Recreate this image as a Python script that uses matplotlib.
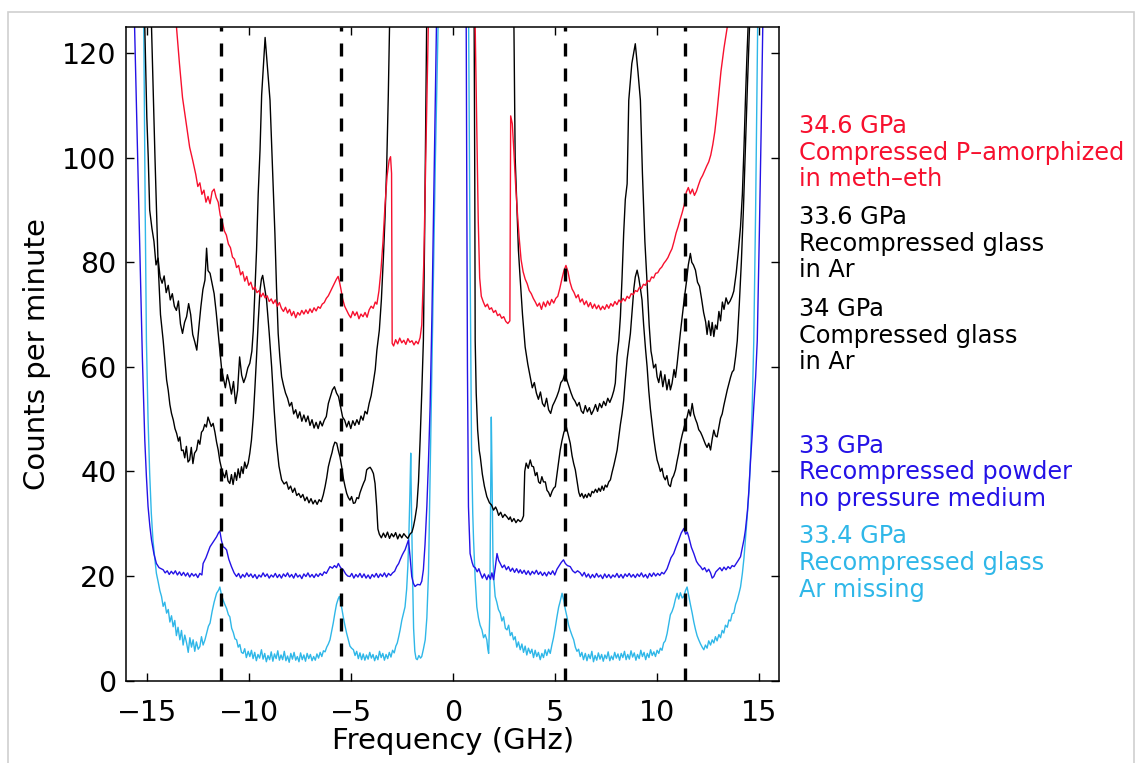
import matplotlib
matplotlib.use("Agg")
import matplotlib.pyplot as plt
from matplotlib.patches import Rectangle

plt.rcParams['font.family'] = ['DejaVu Sans']

# spectra: (frequency GHz, counts per minute)
# values above 125 just mean the trace leaves the top of the plot
red_spectrum = [
    (-14.0, 160), (-13.54, 124.7), (-13.4, 118), (-13.25, 111.5), (-13.05, 106), (-12.9, 102),
    (-12.75, 99.5), (-12.6, 96.8), (-12.5, 94.5), (-12.4, 95.2), (-12.3, 93), (-12.2, 93.8),
    (-12.1, 91.5), (-12.0, 92.6), (-11.9, 91.2), (-11.8, 93.5), (-11.7, 94), (-11.6, 92.4),
    (-11.5, 91.5), (-11.4, 89), (-11.3, 87.8), (-11.2, 86), (-11.1, 85.2), (-11.0, 83.5),
    (-10.9, 82.8), (-10.8, 81), (-10.7, 80.6), (-10.6, 79), (-10.5, 79.4), (-10.4, 77.6),
    (-10.3, 78.2), (-10.2, 76.4), (-10.1, 77.3), (-10.0, 75.6), (-9.9, 76.2), (-9.8, 74.8),
    (-9.7, 75.3), (-9.6, 74.2), (-9.5, 74.6), (-9.4, 73.4), (-9.3, 74.1), (-9.2, 73.2),
    (-9.1, 73.6), (-9.0, 72.5), (-8.9, 73.0), (-8.8, 72.1), (-8.7, 72.8), (-8.6, 71.6),
    (-8.5, 72.3), (-8.4, 71.2), (-8.3, 70.6), (-8.2, 71.4), (-8.1, 70.3), (-8.0, 71.0),
    (-7.9, 69.8), (-7.8, 70.6), (-7.7, 69.4), (-7.6, 70.4), (-7.5, 69.9), (-7.4, 70.8),
    (-7.3, 70.1), (-7.2, 70.9), (-7.1, 70.2), (-7.0, 71.1), (-6.9, 70.4), (-6.8, 71.3),
    (-6.7, 70.7), (-6.6, 71.5), (-6.5, 71.2), (-6.4, 72.0), (-6.3, 72.3), (-6.2, 73.1),
    (-6.1, 73.6), (-6.0, 74.4), (-5.9, 75.2), (-5.8, 76.0), (-5.7, 76.8), (-5.62, 77.3),
    (-5.55, 76.2), (-5.48, 74.8), (-5.4, 73.0), (-5.3, 71.6), (-5.2, 70.8), (-5.1, 70.0),
    (-5.0, 69.4), (-4.9, 70.6), (-4.8, 69.8), (-4.7, 70.5), (-4.6, 69.2), (-4.5, 70.1),
    (-4.4, 69.6), (-4.3, 70.4), (-4.2, 69.5), (-4.1, 70.9), (-4.0, 71.6), (-3.9, 71.2),
    (-3.8, 72.4), (-3.72, 72.0), (-3.62, 74.5), (-3.52, 78.5), (-3.42, 84.0), (-3.32, 91.0),
    (-3.22, 96.5), (-3.12, 99.5), (-3.05, 100.2), (-3.0, 97.0), (-2.97, 64.5), (-2.9, 64.0),
    (-2.8, 65.2), (-2.7, 64.4), (-2.6, 65.5), (-2.5, 64.6), (-2.4, 65.1), (-2.3, 64.3),
    (-2.2, 65.4), (-2.1, 64.7), (-2.0, 65.0), (-1.9, 64.2), (-1.8, 64.9), (-1.7, 64.4),
    (-1.6, 65.6), (-1.52, 68), (-1.42, 80), (-1.32, 100), (-1.2, 125), (-1.1, 160),
    (1.0, 160), (1.1, 125), (1.18, 105), (1.25, 88), (1.32, 77), (1.4, 73.5), (1.5, 72.4),
    (1.6, 71.5), (1.7, 72.0), (1.8, 71.0), (1.9, 71.3), (2.0, 70.4), (2.1, 70.8), (2.2, 69.8),
    (2.3, 70.1), (2.4, 69.3), (2.5, 69.6), (2.6, 68.7), (2.7, 68.3), (2.8, 68.8), (2.84, 108.0),
    (2.92, 106.5), (3.0, 101), (3.08, 95), (3.16, 90), (3.25, 85), (3.35, 80.5), (3.45, 78.2),
    (3.55, 76.8), (3.65, 75.9), (3.75, 74.6), (3.85, 74.0), (3.95, 73.1), (4.05, 72.4),
    (4.15, 71.6), (4.25, 72.2), (4.35, 71.0), (4.45, 72.4), (4.55, 71.5), (4.65, 72.6),
    (4.75, 71.8), (4.85, 72.9), (4.95, 72.2), (5.05, 73.1), (5.15, 73.5), (5.25, 75.0),
    (5.35, 76.8), (5.45, 78.4), (5.55, 79.4), (5.65, 78.2), (5.75, 76.2), (5.85, 74.9),
    (5.95, 74.2), (6.05, 73.2), (6.15, 73.8), (6.25, 72.4), (6.35, 73.0), (6.45, 71.9),
    (6.55, 72.6), (6.65, 71.5), (6.75, 72.3), (6.85, 71.2), (6.95, 72.0), (7.05, 71.1),
    (7.15, 71.8), (7.25, 70.9), (7.35, 71.6), (7.45, 71.0), (7.55, 71.9), (7.65, 71.2),
    (7.75, 72.1), (7.85, 71.6), (7.95, 72.5), (8.05, 71.9), (8.15, 72.8), (8.25, 72.3),
    (8.35, 73.1), (8.45, 72.6), (8.55, 73.5), (8.65, 73.1), (8.75, 74.0), (8.85, 73.8),
    (8.95, 74.6), (9.05, 74.4), (9.15, 75.2), (9.25, 75.0), (9.35, 75.8), (9.45, 75.6),
    (9.55, 76.5), (9.65, 76.3), (9.75, 77.2), (9.85, 77.0), (9.95, 77.9), (10.05, 78.0),
    (10.15, 78.7), (10.25, 79.1), (10.35, 79.8), (10.45, 80.3), (10.55, 80.9), (10.65, 81.8),
    (10.75, 82.6), (10.85, 84.0), (10.95, 85.6), (11.05, 86.8), (11.15, 88.2), (11.25, 89.5),
    (11.35, 91.0), (11.45, 93.4), (11.55, 94.3), (11.65, 93.1), (11.75, 94.0), (11.85, 92.8),
    (11.95, 93.6), (12.05, 94.8), (12.15, 95.9), (12.25, 96.6), (12.35, 97.5), (12.45, 98.4),
    (12.55, 99.2), (12.65, 100.5), (12.75, 102.5), (12.85, 105.0), (12.95, 108.5),
    (13.05, 112.5), (13.15, 116.5), (13.3, 121.0), (13.46, 125.0), (13.6, 160),
]

black_upper_spectrum = [
    (-15.2, 160), (-15.1, 125), (-15.0, 107.7), (-14.93, 100), (-14.86, 90), (-14.75, 86.5),
    (-14.65, 84.0), (-14.55, 79.5), (-14.45, 80.8), (-14.35, 77.2), (-14.25, 76.0),
    (-14.15, 77.4), (-14.05, 74.2), (-13.95, 75.6), (-13.85, 72.8), (-13.75, 74.0),
    (-13.65, 71.6), (-13.55, 70.8), (-13.45, 72.6), (-13.35, 68.2), (-13.25, 66.4),
    (-13.15, 68.5), (-13.05, 69.6), (-12.95, 72.1), (-12.85, 70.0), (-12.75, 66.2),
    (-12.65, 64.8), (-12.55, 63.2), (-12.45, 67.5), (-12.35, 71.5), (-12.25, 74.8),
    (-12.15, 76.6), (-12.07, 82.7), (-12.0, 78.4), (-11.9, 77.9), (-11.8, 76.0), (-11.7, 74.0),
    (-11.6, 70.5), (-11.5, 66.4), (-11.42, 63.2), (-11.33, 59.5), (-11.26, 58.1),
    (-11.15, 56.0), (-11.05, 58.5), (-10.95, 56.9), (-10.85, 54.8), (-10.75, 57.2),
    (-10.65, 53.0), (-10.55, 55.5), (-10.45, 61.9), (-10.35, 58.4), (-10.25, 57.0),
    (-10.15, 58.1), (-10.05, 59.8), (-9.95, 60.7), (-9.85, 63.0), (-9.78, 67.0), (-9.7, 74.5),
    (-9.62, 82.3), (-9.54, 93.0), (-9.45, 101.4), (-9.37, 112.0), (-9.29, 117.3), (-9.2, 123.0),
    (-9.1, 118.0), (-8.96, 111.0), (-8.84, 98.0), (-8.72, 85.5), (-8.64, 75.0), (-8.56, 66.4),
    (-8.48, 62.0), (-8.39, 58.1), (-8.3, 56.5), (-8.2, 55.0), (-8.1, 54.0), (-8.0, 52.5),
    (-7.9, 53.2), (-7.8, 51.0), (-7.7, 51.8), (-7.6, 50.2), (-7.5, 51.4), (-7.4, 49.6),
    (-7.3, 50.8), (-7.2, 49.5), (-7.1, 50.6), (-7.0, 48.8), (-6.9, 49.9), (-6.8, 48.3),
    (-6.7, 49.4), (-6.6, 48.2), (-6.5, 49.6), (-6.4, 48.7), (-6.3, 49.8), (-6.2, 50.5),
    (-6.1, 53.0), (-6.0, 54.3), (-5.9, 55.6), (-5.8, 56.2), (-5.7, 55.0), (-5.6, 54.3),
    (-5.5, 52.4), (-5.4, 50.4), (-5.3, 49.8), (-5.2, 48.5), (-5.1, 49.6), (-5.0, 48.2),
    (-4.9, 49.7), (-4.8, 48.8), (-4.7, 49.9), (-4.6, 49.0), (-4.5, 50.6), (-4.4, 49.8),
    (-4.3, 51.5), (-4.2, 51.0), (-4.1, 53.0), (-4.0, 54.5), (-3.9, 56.9), (-3.8, 59.5),
    (-3.72, 63.2), (-3.6, 67.0), (-3.5, 72.8), (-3.4, 81.0), (-3.32, 88.7), (-3.24, 98.2),
    (-3.16, 112.0), (-3.1, 125.0), (-3.0, 160),
    (2.95, 160), (3.0, 125), (3.06, 100), (3.15, 90), (3.22, 82.3), (3.3, 77.2), (3.42, 70.0),
    (3.55, 63.8), (3.68, 60.5), (3.8, 58.1), (3.9, 56.0), (4.0, 57.0), (4.1, 55.0), (4.2, 53.8),
    (4.3, 55.2), (4.4, 53.0), (4.5, 52.4), (4.6, 54.0), (4.7, 51.8), (4.8, 51.1), (4.9, 52.6),
    (5.0, 53.4), (5.1, 54.3), (5.2, 55.4), (5.3, 57.0), (5.4, 57.5), (5.5, 58.8), (5.6, 57.4),
    (5.7, 56.2), (5.8, 55.0), (5.9, 54.0), (6.0, 53.4), (6.1, 52.5), (6.2, 53.2), (6.3, 51.6),
    (6.4, 51.1), (6.5, 52.6), (6.6, 51.4), (6.7, 52.2), (6.8, 50.9), (6.9, 51.7), (7.0, 52.8),
    (7.1, 51.5), (7.2, 53.0), (7.3, 52.2), (7.4, 53.4), (7.5, 52.6), (7.6, 54.0), (7.7, 53.2),
    (7.81, 54.3), (7.9, 55.5), (7.97, 56.9), (8.05, 62.0), (8.14, 65.0), (8.22, 69.6),
    (8.3, 77.0), (8.38, 85.5), (8.46, 92.0), (8.55, 95.0), (8.63, 111.0), (8.78, 118.0),
    (8.95, 121.8), (9.08, 116.5), (9.2, 111.0), (9.3, 97.0), (9.42, 84.0), (9.53, 75.9),
    (9.63, 68.0), (9.72, 63.0), (9.77, 61.9), (9.85, 59.8), (9.95, 60.5), (10.02, 58.1),
    (10.1, 57.0), (10.2, 59.2), (10.3, 56.2), (10.4, 58.5), (10.5, 55.6), (10.6, 57.6),
    (10.67, 55.6), (10.75, 56.8), (10.85, 59.5), (10.92, 58.0), (11.0, 60.5), (11.08, 63.5),
    (11.16, 66.5), (11.25, 69.6), (11.35, 73.0), (11.45, 76.0), (11.55, 79.5), (11.65, 81.7),
    (11.72, 80.0), (11.8, 79.5), (11.9, 78.5), (12.0, 76.2), (12.1, 75.4), (12.2, 73.0),
    (12.3, 70.4), (12.4, 68.6), (12.47, 66.2), (12.55, 68.8), (12.65, 66.0), (12.72, 68.5),
    (12.8, 65.8), (12.88, 68.0), (12.96, 67.2), (13.05, 70.6), (13.13, 68.8), (13.22, 72.4),
    (13.3, 71.0), (13.4, 73.2), (13.5, 72.0), (13.6, 72.6), (13.7, 73.5), (13.78, 74.5),
    (13.9, 78.0), (14.0, 82.0), (14.11, 86.8), (14.2, 93.0), (14.28, 102.0), (14.35, 111.0),
    (14.42, 119.0), (14.48, 125.0), (14.6, 160),
]

black_lower_spectrum = [
    (-15.0, 160), (-14.77, 125), (-14.6, 100), (-14.45, 80), (-14.33, 70), (-14.2, 65.1),
    (-14.1, 60.5), (-14.03, 57.5), (-13.95, 55.5), (-13.87, 52.8), (-13.79, 51.1),
    (-13.7, 49.8), (-13.62, 48.2), (-13.54, 47.3), (-13.45, 45.8), (-13.38, 46.6),
    (-13.3, 44.0), (-13.22, 44.1), (-13.14, 42.6), (-13.06, 44.8), (-12.98, 41.8),
    (-12.9, 42.2), (-12.82, 44.6), (-12.74, 41.5), (-12.66, 43.5), (-12.56, 44.1),
    (-12.48, 46.0), (-12.4, 45.2), (-12.32, 47.5), (-12.24, 47.9), (-12.16, 49.0),
    (-12.08, 48.5), (-12.0, 50.4), (-11.92, 49.5), (-11.84, 48.6), (-11.75, 49.2),
    (-11.66, 47.5), (-11.58, 45.6), (-11.5, 44.1), (-11.42, 42.0), (-11.34, 40.6),
    (-11.26, 39.6), (-11.18, 38.8), (-11.1, 40.2), (-11.02, 38.2), (-10.93, 37.7),
    (-10.85, 39.4), (-10.77, 37.5), (-10.68, 39.8), (-10.6, 38.3), (-10.52, 40.5),
    (-10.44, 38.8), (-10.36, 40.9), (-10.28, 39.6), (-10.2, 41.8), (-10.12, 40.6),
    (-10.03, 41.6), (-9.95, 43.5), (-9.87, 46.0), (-9.78, 50.4), (-9.7, 56.0), (-9.62, 62.0),
    (-9.54, 68.5), (-9.45, 74.7), (-9.38, 76.8), (-9.32, 77.5), (-9.24, 75.5), (-9.13, 72.8),
    (-9.0, 66.5), (-8.88, 60.0), (-8.76, 52.0), (-8.64, 45.4), (-8.52, 41.0), (-8.39, 38.4),
    (-8.27, 37.6), (-8.15, 38.0), (-8.05, 36.6), (-7.95, 37.2), (-7.85, 36.0), (-7.75, 36.8),
    (-7.65, 35.4), (-7.55, 35.8), (-7.45, 35.0), (-7.35, 35.6), (-7.25, 34.4), (-7.15, 35.1),
    (-7.05, 34.0), (-6.95, 34.8), (-6.85, 33.8), (-6.75, 34.5), (-6.65, 33.7), (-6.55, 34.6),
    (-6.45, 34.2), (-6.35, 35.5), (-6.26, 37.1), (-6.18, 38.8), (-6.1, 40.9), (-6.0, 42.5),
    (-5.92, 43.6), (-5.86, 44.7), (-5.78, 45.6), (-5.69, 45.4), (-5.61, 44.0), (-5.53, 42.8),
    (-5.45, 41.0), (-5.36, 38.6), (-5.28, 37.1), (-5.2, 35.8), (-5.12, 35.0), (-5.04, 34.5),
    (-4.96, 35.2), (-4.87, 33.9), (-4.79, 34.0), (-4.7, 35.0), (-4.62, 34.8), (-4.55, 35.9),
    (-4.45, 37.0), (-4.37, 37.8), (-4.3, 38.4), (-4.22, 40.3), (-4.14, 40.6), (-4.05, 40.8),
    (-3.97, 40.3), (-3.89, 39.6), (-3.81, 37.7), (-3.73, 33.3), (-3.67, 29.0), (-3.6, 28.0),
    (-3.5, 27.3), (-3.4, 28.2), (-3.3, 27.4), (-3.2, 28.4), (-3.1, 27.2), (-3.0, 28.1),
    (-2.9, 27.5), (-2.8, 28.3), (-2.7, 27.1), (-2.6, 28.0), (-2.5, 27.3), (-2.4, 28.1),
    (-2.3, 27.6), (-2.2, 27.2), (-2.1, 28.0), (-2.0, 28.4), (-1.93, 29.4), (-1.85, 31.0),
    (-1.76, 33.3), (-1.68, 38.0), (-1.6, 46.0), (-1.52, 55.0), (-1.44, 65.0), (-1.38, 85.0),
    (-1.32, 110.0), (-1.28, 125.0), (-1.2, 160),
    (1.0, 160), (1.05, 125), (1.08, 95), (1.1, 65), (1.15, 55), (1.22, 48.0), (1.3, 44.0),
    (1.35, 42.8), (1.45, 39.5), (1.55, 37.2), (1.67, 35.2), (1.8, 34.0), (1.9, 33.6),
    (2.0, 32.6), (2.1, 33.2), (2.17, 32.6), (2.25, 31.6), (2.35, 32.2), (2.45, 31.2),
    (2.55, 31.8), (2.66, 31.3), (2.75, 30.8), (2.82, 31.3), (2.9, 30.4), (3.0, 31.0),
    (3.1, 30.2), (3.2, 30.8), (3.31, 30.4), (3.39, 30.7), (3.47, 31.5), (3.53, 40.0),
    (3.6, 41.6), (3.7, 40.6), (3.8, 42.2), (3.88, 41.0), (3.96, 40.9), (4.05, 39.2),
    (4.13, 39.8), (4.21, 38.0), (4.29, 37.7), (4.37, 39.0), (4.45, 38.0), (4.54, 38.0),
    (4.62, 36.4), (4.7, 36.0), (4.78, 35.2), (4.87, 36.2), (4.95, 36.8), (5.03, 37.1),
    (5.11, 39.5), (5.19, 41.8), (5.27, 44.1), (5.35, 45.8), (5.45, 47.5), (5.57, 48.5),
    (5.66, 47.0), (5.76, 45.4), (5.85, 43.0), (5.93, 41.5), (6.01, 40.3), (6.1, 38.0),
    (6.18, 36.0), (6.25, 35.2), (6.33, 35.8), (6.42, 34.9), (6.5, 35.6), (6.58, 35.0),
    (6.66, 35.8), (6.75, 35.2), (6.83, 36.2), (6.91, 35.9), (7.0, 36.6), (7.08, 36.0),
    (7.16, 36.8), (7.24, 36.2), (7.32, 37.2), (7.4, 36.4), (7.48, 37.4), (7.56, 37.0),
    (7.65, 38.0), (7.73, 38.4), (7.81, 39.8), (7.9, 41.2), (7.98, 42.6), (8.06, 44.1),
    (8.14, 46.5), (8.22, 49.0), (8.3, 51.0), (8.38, 53.6), (8.46, 57.5), (8.55, 61.5),
    (8.63, 64.0), (8.71, 66.4), (8.8, 71.0), (8.88, 75.0), (8.95, 77.2), (9.04, 78.5),
    (9.12, 77.0), (9.2, 75.0), (9.28, 72.8), (9.36, 68.0), (9.45, 63.5), (9.53, 60.0),
    (9.61, 55.5), (9.69, 52.0), (9.77, 49.2), (9.85, 46.5), (9.94, 44.0), (10.02, 42.2),
    (10.1, 41.2), (10.18, 40.0), (10.26, 40.6), (10.34, 39.0), (10.42, 38.4), (10.5, 39.2),
    (10.58, 37.5), (10.67, 37.1), (10.75, 38.6), (10.83, 39.2), (10.92, 40.3), (11.0, 42.0),
    (11.08, 43.5), (11.16, 45.4), (11.25, 47.0), (11.33, 48.2), (11.41, 49.5), (11.49, 50.4),
    (11.57, 51.8), (11.65, 50.6), (11.74, 53.0), (11.82, 51.0), (11.9, 50.0), (11.98, 49.2),
    (12.06, 48.0), (12.15, 47.5), (12.23, 46.8), (12.31, 46.0), (12.39, 45.2), (12.47, 44.6),
    (12.55, 45.4), (12.64, 44.1), (12.72, 46.2), (12.8, 47.9), (12.88, 46.8), (12.96, 46.6),
    (13.05, 48.5), (13.13, 50.2), (13.21, 51.0), (13.29, 52.6), (13.37, 54.0), (13.46, 55.6),
    (13.54, 56.8), (13.62, 58.0), (13.7, 59.0), (13.78, 59.4), (13.87, 62.0), (13.95, 65.0),
    (14.05, 72.0), (14.15, 80.0), (14.25, 90.0), (14.35, 102.0), (14.45, 114.0),
    (14.55, 125.0), (14.65, 160),
]

blue_spectrum = [
    (-15.9, 160), (-15.6, 125), (-15.45, 100), (-15.3, 75), (-15.22, 62), (-15.1, 46),
    (-15.02, 39), (-14.94, 33.3), (-14.85, 29.5), (-14.77, 26.9), (-14.65, 24.2),
    (-14.53, 22.4), (-14.4, 21.6), (-14.2, 21.2), (-14.1, 20.6), (-14.0, 21.0), (-13.9, 20.3),
    (-13.8, 20.9), (-13.7, 20.4), (-13.6, 21.0), (-13.5, 20.2), (-13.4, 20.8), (-13.3, 20.1),
    (-13.2, 20.7), (-13.1, 20.0), (-13.0, 20.6), (-12.9, 19.8), (-12.8, 20.5), (-12.7, 20.0),
    (-12.6, 20.4), (-12.5, 19.7), (-12.4, 20.5), (-12.3, 20.2), (-12.24, 22.4), (-12.1, 23.5),
    (-11.9, 25.6), (-11.75, 26.5), (-11.58, 27.5), (-11.48, 28.3), (-11.42, 28.6),
    (-11.34, 26.8), (-11.26, 25.6), (-11.18, 25.4), (-11.09, 25.0), (-10.98, 23.2),
    (-10.85, 21.8), (-10.72, 20.6), (-10.6, 19.9), (-10.5, 20.5), (-10.4, 19.6), (-10.3, 20.3),
    (-10.2, 19.8), (-10.1, 20.6), (-10.0, 19.9), (-9.9, 20.4), (-9.8, 19.7), (-9.7, 20.3),
    (-9.6, 19.5), (-9.5, 20.2), (-9.4, 19.8), (-9.3, 20.6), (-9.2, 19.9), (-9.1, 20.4),
    (-9.0, 19.6), (-8.9, 20.2), (-8.8, 19.8), (-8.7, 20.5), (-8.6, 19.7), (-8.5, 20.3),
    (-8.4, 19.6), (-8.3, 20.4), (-8.2, 19.9), (-8.1, 20.6), (-8.0, 19.8), (-7.9, 20.3),
    (-7.8, 19.6), (-7.7, 20.5), (-7.6, 19.8), (-7.5, 20.2), (-7.4, 19.5), (-7.3, 20.4),
    (-7.2, 19.9), (-7.1, 20.6), (-7.0, 19.8), (-6.9, 20.3), (-6.8, 19.7), (-6.7, 20.4),
    (-6.6, 19.9), (-6.5, 20.5), (-6.4, 20.1), (-6.3, 20.8), (-6.2, 20.5), (-6.1, 21.2),
    (-6.02, 21.8), (-5.9, 21.5), (-5.8, 22.0), (-5.7, 21.6), (-5.61, 22.4), (-5.5, 21.6),
    (-5.37, 21.2), (-5.25, 20.4), (-5.15, 20.0), (-5.04, 19.9), (-4.95, 20.5), (-4.85, 19.6),
    (-4.75, 20.3), (-4.65, 19.8), (-4.55, 20.5), (-4.45, 19.7), (-4.35, 20.4), (-4.25, 19.6),
    (-4.15, 20.2), (-4.05, 19.5), (-3.95, 20.3), (-3.85, 19.8), (-3.75, 20.5), (-3.65, 19.7),
    (-3.55, 20.4), (-3.45, 19.9), (-3.35, 20.6), (-3.25, 19.8), (-3.15, 20.5), (-3.05, 20.1),
    (-2.95, 20.6), (-2.85, 20.9), (-2.75, 21.8), (-2.65, 22.4), (-2.58, 23.1), (-2.48, 24.0),
    (-2.4, 24.6), (-2.34, 25.0), (-2.25, 26.0), (-2.17, 26.9), (-2.1, 24.0), (-2.01, 19.9),
    (-1.93, 18.6), (-1.85, 18.0), (-1.72, 18.4), (-1.6, 18.3), (-1.52, 19.0), (-1.44, 21.2),
    (-1.36, 26.0), (-1.27, 33.3), (-1.19, 42.0), (-1.11, 52.4), (-1.02, 70.0), (-0.92, 95.0),
    (-0.8, 125.0), (-0.7, 160),
    (0.6, 160), (0.66, 125), (0.72, 60), (0.77, 33.3), (0.85, 24.3), (0.95, 22.6),
    (1.02, 21.8), (1.1, 21.6), (1.2, 20.8), (1.28, 21.4), (1.35, 20.6), (1.45, 19.6),
    (1.55, 20.4), (1.67, 19.3), (1.75, 20.2), (1.85, 19.4), (1.92, 20.6), (2.0, 19.3),
    (2.08, 21.5), (2.17, 24.3), (2.25, 23.0), (2.33, 22.4), (2.43, 21.6), (2.53, 22.1),
    (2.63, 21.2), (2.73, 21.8), (2.83, 20.9), (2.93, 21.5), (3.03, 20.7), (3.13, 21.4),
    (3.23, 20.6), (3.31, 21.2), (3.4, 20.5), (3.5, 21.1), (3.6, 20.3), (3.7, 21.0),
    (3.8, 20.2), (3.9, 20.9), (4.0, 20.4), (4.1, 21.1), (4.2, 20.3), (4.3, 20.8), (4.4, 20.1),
    (4.5, 20.7), (4.6, 20.0), (4.7, 20.8), (4.8, 20.3), (4.9, 21.0), (5.0, 20.2), (5.11, 21.3),
    (5.22, 22.0), (5.32, 22.6), (5.43, 23.1), (5.52, 22.4), (5.62, 22.0), (5.76, 21.8),
    (5.88, 21.0), (6.0, 20.6), (6.12, 21.0), (6.25, 20.6), (6.35, 20.0), (6.45, 20.7),
    (6.55, 19.8), (6.65, 20.4), (6.75, 19.6), (6.85, 20.3), (6.95, 19.7), (7.05, 20.5),
    (7.15, 19.8), (7.25, 20.2), (7.35, 19.5), (7.45, 20.4), (7.55, 19.7), (7.65, 20.3),
    (7.75, 19.6), (7.85, 20.2), (7.95, 19.8), (8.05, 20.5), (8.15, 19.7), (8.25, 20.3),
    (8.35, 19.6), (8.45, 20.4), (8.55, 19.9), (8.65, 20.5), (8.75, 19.8), (8.85, 20.3),
    (8.95, 19.7), (9.05, 20.4), (9.15, 19.9), (9.25, 20.6), (9.35, 19.8), (9.45, 20.3),
    (9.55, 19.6), (9.65, 20.5), (9.75, 19.9), (9.85, 20.6), (9.95, 20.0), (10.05, 20.5),
    (10.15, 20.1), (10.25, 20.7), (10.35, 20.4), (10.45, 21.0), (10.51, 21.4), (10.6, 22.4),
    (10.7, 23.5), (10.83, 24.3), (10.95, 25.6), (11.08, 26.9), (11.2, 28.2), (11.33, 29.1),
    (11.42, 28.0), (11.5, 28.4), (11.57, 27.5), (11.7, 25.5), (11.82, 24.3), (11.95, 22.8),
    (12.05, 22.2), (12.15, 21.8), (12.25, 21.2), (12.35, 21.6), (12.45, 20.8), (12.55, 21.3),
    (12.64, 20.6), (12.72, 19.6), (12.8, 19.9), (12.9, 20.8), (13.0, 21.2), (13.1, 21.6),
    (13.2, 21.0), (13.3, 21.7), (13.4, 21.2), (13.5, 21.8), (13.6, 21.4), (13.7, 22.0),
    (13.8, 21.8), (13.9, 22.4), (14.0, 23.0), (14.11, 23.7), (14.2, 25.5), (14.28, 27.0),
    (14.35, 28.8), (14.45, 32.5), (14.52, 36.4), (14.6, 42.0), (14.68, 47.0), (14.76, 52.4),
    (14.85, 58.0), (14.93, 65.0), (15.03, 85.0), (15.12, 105.0), (15.2, 125.0), (15.3, 160),
]

cyan_spectrum = [
    (-15.3, 160), (-15.15, 125), (-15.08, 90), (-15.02, 65), (-14.94, 50), (-14.86, 39.6),
    (-14.78, 32.0), (-14.7, 26.9), (-14.6, 23.0), (-14.53, 20.5), (-14.45, 19.0),
    (-14.36, 17.2), (-14.28, 16.1), (-14.2, 14.2), (-14.12, 15.0), (-14.03, 12.9),
    (-13.95, 13.6), (-13.87, 11.2), (-13.79, 12.4), (-13.71, 10.3), (-13.63, 11.5),
    (-13.55, 8.6), (-13.47, 10.2), (-13.38, 7.8), (-13.3, 9.6), (-13.22, 6.8), (-13.14, 8.7),
    (-13.05, 7.2), (-12.97, 5.4), (-12.89, 8.2), (-12.81, 6.4), (-12.73, 7.8), (-12.65, 5.6),
    (-12.57, 7.4), (-12.48, 6.0), (-12.4, 6.5), (-12.32, 8.4), (-12.24, 6.8), (-12.15, 7.8),
    (-12.07, 9.0), (-11.98, 10.4), (-11.9, 11.0), (-11.8, 13.2), (-11.7, 15.0), (-11.58, 16.7),
    (-11.48, 17.3), (-11.42, 17.9), (-11.34, 16.4), (-11.26, 15.4), (-11.18, 14.6),
    (-11.09, 13.8), (-11.0, 12.6), (-10.93, 12.2), (-10.84, 10.0), (-10.76, 9.2), (-10.68, 8.0),
    (-10.6, 7.8), (-10.52, 6.4), (-10.44, 6.9), (-10.36, 5.4), (-10.28, 5.2), (-10.2, 6.1),
    (-10.12, 4.4), (-10.03, 5.6), (-9.95, 4.6), (-9.87, 5.8), (-9.79, 4.2), (-9.71, 5.4),
    (-9.63, 3.8), (-9.55, 5.0), (-9.47, 4.3), (-9.38, 5.9), (-9.3, 4.1), (-9.22, 5.2),
    (-9.14, 3.6), (-9.06, 4.8), (-8.98, 4.0), (-8.9, 5.5), (-8.82, 3.7), (-8.74, 5.1),
    (-8.66, 4.2), (-8.58, 5.7), (-8.5, 3.9), (-8.42, 4.9), (-8.34, 4.0), (-8.26, 5.6),
    (-8.18, 3.8), (-8.1, 4.7), (-8.02, 3.5), (-7.94, 5.2), (-7.86, 4.1), (-7.78, 5.4),
    (-7.7, 3.9), (-7.62, 4.6), (-7.54, 3.6), (-7.46, 5.3), (-7.38, 4.0), (-7.3, 4.9),
    (-7.22, 3.7), (-7.14, 5.2), (-7.06, 4.2), (-6.98, 5.0), (-6.9, 3.8), (-6.82, 4.6),
    (-6.74, 3.9), (-6.66, 5.1), (-6.58, 4.3), (-6.5, 5.4), (-6.42, 4.6), (-6.34, 5.7),
    (-6.26, 5.5), (-6.18, 6.4), (-6.1, 7.0), (-6.02, 7.8), (-5.94, 9.4), (-5.86, 11.0),
    (-5.78, 12.9), (-5.7, 14.6), (-5.62, 15.6), (-5.56, 16.1), (-5.5, 15.0), (-5.43, 13.6),
    (-5.37, 12.2), (-5.29, 10.6), (-5.2, 9.0), (-5.12, 7.8), (-5.04, 6.6), (-4.96, 6.2),
    (-4.87, 5.9), (-4.79, 4.8), (-4.71, 5.6), (-4.63, 4.2), (-4.55, 5.3), (-4.47, 4.0),
    (-4.39, 5.1), (-4.31, 3.9), (-4.23, 4.9), (-4.15, 4.1), (-4.07, 5.4), (-3.99, 4.3),
    (-3.91, 5.0), (-3.83, 3.8), (-3.75, 4.8), (-3.67, 4.0), (-3.59, 5.6), (-3.51, 4.4),
    (-3.43, 5.2), (-3.35, 3.9), (-3.27, 5.0), (-3.19, 4.2), (-3.11, 5.4), (-3.03, 4.5),
    (-2.95, 5.8), (-2.87, 5.3), (-2.79, 6.6), (-2.72, 7.2), (-2.65, 8.4), (-2.58, 9.7),
    (-2.5, 11.5), (-2.42, 12.8), (-2.34, 14.1), (-2.26, 17.5), (-2.2, 22.0), (-2.15, 28.0),
    (-2.1, 36.0), (-2.06, 43.5), (-2.02, 32.0), (-1.97, 20.0), (-1.92, 10.0), (-1.86, 5.6),
    (-1.8, 4.2), (-1.74, 4.0), (-1.66, 4.8), (-1.58, 4.3), (-1.52, 4.6), (-1.44, 6.0),
    (-1.35, 7.8), (-1.27, 12.0), (-1.19, 20.5), (-1.11, 39.6), (-1.0, 65.0), (-0.85, 100.0),
    (-0.72, 125.0), (-0.62, 160),
    (0.7, 160), (0.78, 125), (0.85, 80), (0.92, 45), (0.98, 32), (1.02, 26.9), (1.1, 19.5),
    (1.18, 14.1), (1.26, 12.0), (1.34, 10.6), (1.43, 9.7), (1.51, 8.2), (1.59, 8.8),
    (1.67, 7.8), (1.72, 6.0), (1.76, 5.2), (1.81, 12.0), (1.85, 30.0), (1.89, 50.4),
    (1.93, 38.0), (1.97, 23.7), (2.02, 19.0), (2.08, 16.1), (2.16, 15.0), (2.24, 13.6),
    (2.33, 12.9), (2.41, 11.4), (2.49, 12.2), (2.58, 10.0), (2.66, 9.7), (2.74, 10.6),
    (2.82, 8.6), (2.9, 9.2), (2.98, 7.8), (3.06, 8.4), (3.14, 6.4), (3.22, 7.4), (3.31, 5.9),
    (3.39, 7.0), (3.47, 5.4), (3.55, 6.6), (3.63, 4.9), (3.71, 6.2), (3.8, 5.2), (3.88, 6.0),
    (3.96, 4.4), (4.04, 5.8), (4.12, 4.6), (4.2, 5.4), (4.29, 4.0), (4.37, 5.2), (4.45, 4.4),
    (4.53, 5.9), (4.61, 4.8), (4.7, 6.0), (4.78, 5.2), (4.86, 6.8), (4.94, 8.2), (5.02, 10.0),
    (5.11, 12.2), (5.19, 14.0), (5.27, 15.2), (5.36, 16.7), (5.44, 15.4), (5.52, 13.6),
    (5.6, 12.2), (5.68, 10.6), (5.76, 9.6), (5.85, 8.6), (5.93, 7.8), (6.01, 6.4), (6.09, 5.6),
    (6.17, 6.0), (6.25, 4.6), (6.33, 5.4), (6.41, 4.0), (6.5, 5.2), (6.58, 3.8), (6.66, 5.0),
    (6.74, 4.2), (6.82, 5.6), (6.9, 3.6), (6.98, 4.8), (7.06, 3.9), (7.14, 5.3), (7.22, 4.1),
    (7.3, 5.0), (7.38, 3.7), (7.46, 4.9), (7.54, 4.2), (7.62, 5.5), (7.7, 3.8), (7.78, 4.7),
    (7.86, 4.0), (7.94, 5.4), (8.02, 4.3), (8.1, 5.1), (8.18, 3.9), (8.26, 5.2), (8.34, 4.4),
    (8.42, 5.6), (8.5, 4.0), (8.58, 5.0), (8.66, 4.1), (8.74, 5.7), (8.82, 4.5), (8.9, 5.3),
    (8.98, 3.9), (9.06, 5.0), (9.14, 4.2), (9.22, 5.8), (9.3, 4.6), (9.38, 5.4), (9.46, 4.0),
    (9.54, 5.2), (9.62, 4.4), (9.7, 5.9), (9.78, 4.8), (9.86, 5.5), (9.94, 4.6), (10.02, 5.8),
    (10.1, 5.2), (10.18, 6.2), (10.26, 5.8), (10.34, 7.2), (10.42, 7.6), (10.51, 9.0),
    (10.59, 10.8), (10.67, 12.6), (10.75, 13.2), (10.83, 14.1), (10.92, 15.6), (11.0, 16.7),
    (11.08, 15.6), (11.16, 16.8), (11.25, 15.8), (11.33, 16.1), (11.41, 17.2), (11.49, 17.9),
    (11.57, 16.2), (11.65, 14.6), (11.74, 12.9), (11.82, 11.2), (11.9, 9.8), (11.98, 8.6),
    (12.06, 7.8), (12.15, 7.0), (12.23, 6.4), (12.31, 5.9), (12.39, 6.8), (12.47, 6.2),
    (12.55, 7.6), (12.64, 6.8), (12.72, 7.8), (12.8, 7.2), (12.88, 8.4), (12.96, 7.6),
    (13.05, 8.8), (13.13, 8.2), (13.21, 9.6), (13.29, 9.1), (13.37, 10.6), (13.46, 10.2),
    (13.54, 11.6), (13.62, 11.4), (13.7, 12.8), (13.78, 12.9), (13.87, 14.6), (13.95, 15.4),
    (14.03, 16.6), (14.11, 17.9), (14.2, 20.5), (14.28, 23.5), (14.35, 26.9), (14.43, 31.0),
    (14.52, 36.0), (14.6, 42.8), (14.68, 52.0), (14.76, 65.0), (14.85, 90.0), (14.95, 125.0),
    (15.05, 160),
]

# reference peak positions (dashed lines)
peak_freqs = [-11.38, -5.48, 5.48, 11.38]

x_ticks = [-15, -10, -5, 0, 5, 10, 15]
y_ticks = [0, 20, 40, 60, 80, 100, 120]

labels = [
    ["34.6 GPa", "Compressed P\u2013amorphized", "in meth\u2013eth"],
    ["33.6 GPa", "Recompressed glass", "in Ar"],
    ["34 GPa", "Compressed glass", "in Ar"],
    ["33 GPa", "Recompressed powder", "no pressure medium"],
    ["33.4 GPa", "Recompressed glass", "Ar missing"],
]

RED = '#f7102e'
BLUE = '#2412e6'
CYAN = '#2fb7e8'

fig = plt.figure(figsize=(11.39, 7.63), dpi=100)
ax = fig.add_axes([0.111, 0.108, 0.573, 0.8566])

for pts, col in [(cyan_spectrum, CYAN), (blue_spectrum, BLUE),
                 (black_lower_spectrum, 'black'), (black_upper_spectrum, 'black'),
                 (red_spectrum, RED)]:
    f, c = zip(*pts)
    ax.plot(f, c, color=col, lw=1.0)

for p in peak_freqs:
    ax.axvline(p, color='black', lw=2.4, linestyle=(0, (3.9, 3.6)), zorder=5)

ax.set_xlim(-16, 16)
ax.set_ylim(0, 125)
ax.set_xticks(x_ticks)
ax.set_yticks(y_ticks)
ax.tick_params(direction='in', top=True, right=True, length=6, width=1, labelsize=20.5)
ax.tick_params(axis='x', pad=13)
ax.tick_params(axis='y', pad=7)
for s in ax.spines.values():
    s.set_linewidth(1.1)
ax.set_xlabel('Frequency (GHz)', fontsize=21, labelpad=0)
ax.set_ylabel('Counts per minute', fontsize=21, labelpad=8)

# annotation blocks right of the axes (baseline of first line in pixels from top)
block_tops = [133.3, 224.3, 316.0, 452.7, 543.3]
block_colors = [RED, 'black', 'black', BLUE, CYAN]
line_step = 26.6
for lines, top, col in zip(labels, block_tops, block_colors):
    for i, line in enumerate(lines):
        y = 1 - (top + i * line_step) / 763
        fig.text(799 / 1139, y, line, color=col, fontsize=17.3, va='baseline', ha='left')

fig.patches.append(Rectangle((0.007, -0.01), 0.989, 0.994, transform=fig.transFigure,
                             fill=False, ec='#d0d0d0', lw=1.2))

fig.savefig('out.png', dpi=100)
